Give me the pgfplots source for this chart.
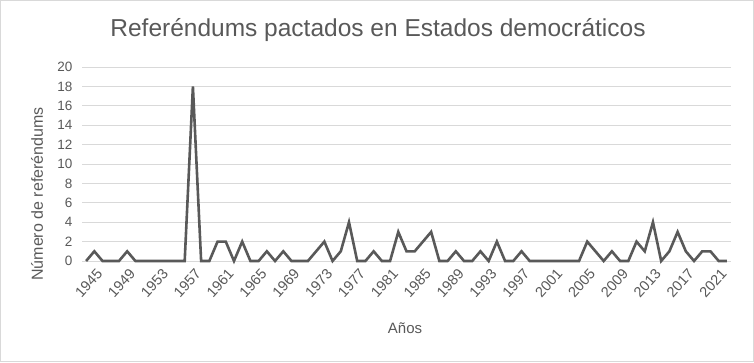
\documentclass[border=0pt]{standalone}
\usepackage{pgfplots}
\pgfplotsset{compat=1.18}
\usepackage{fontspec}
\setmainfont{Liberation Sans}
\definecolor{txt}{HTML}{595959}
\definecolor{gridc}{HTML}{D9D9D9}
\definecolor{ln}{HTML}{595959}
\begin{document}
\begin{tikzpicture}
\draw[gridc, line width=0.8pt] (0.4pt,0.4pt) rectangle (753.6pt,361.6pt);
\begin{axis}[
  at={(82pt,101pt)}, anchor=south west,
  scale only axis, width=649pt, height=194pt,
  xmin=1944.5, xmax=2023.5, ymin=0, ymax=20,
  ytick={0,2,...,20},
  xtick={1945,1949,...,2021},
  xticklabel style={rotate=48, anchor=north east, xshift=5pt, yshift=-8pt, font=\fontsize{14.5}{14.5}\selectfont, text=txt, /pgf/number format/1000 sep={}},
  yticklabel style={font=\fontsize{13.5}{13.5}\selectfont, text=txt, xshift=-6pt},
  /pgf/number format/assume math mode=true,
  /pgf/number format/1000 sep={},
  axis line style={draw=none},
  major tick length=0pt,
  ymajorgrids, xmajorgrids=false, grid style={draw=gridc, line width=0.8pt},
  clip=false,
]
\addplot[ln, line width=2.6pt, line join=miter, miter limit=20] coordinates {
(1945,0)(1946,1)(1947,0)(1948,0)(1949,0)(1950,1)(1951,0)(1952,0)(1953,0)(1954,0)
(1955,0)(1956,0)(1957,0)(1958,18)(1959,0)(1960,0)(1961,2)(1962,2)(1963,0)(1964,2)
(1965,0)(1966,0)(1967,1)(1968,0)(1969,1)(1970,0)(1971,0)(1972,0)(1973,1)(1974,2)
(1975,0)(1976,1)(1977,4)(1978,0)(1979,0)(1980,1)(1981,0)(1982,0)(1983,3)(1984,1)
(1985,1)(1986,2)(1987,3)(1988,0)(1989,0)(1990,1)(1991,0)(1992,0)(1993,1)(1994,0)
(1995,2)(1996,0)(1997,0)(1998,1)(1999,0)(2000,0)(2001,0)(2002,0)(2003,0)(2004,0)
(2005,0)(2006,2)(2007,1)(2008,0)(2009,1)(2010,0)(2011,0)(2012,2)(2013,1)(2014,4)
(2015,0)(2016,1)(2017,3)(2018,1)(2019,0)(2020,1)(2021,1)(2022,0)(2023,0)
};
\end{axis}
\node[text=txt, font=\fontsize{24.5}{24.5}\selectfont] at (378pt,332pt) {Referéndums pactados en Estados democráticos};
\node[text=txt, font=\fontsize{16}{16}\selectfont, rotate=90] at (37pt,168pt) {Número de referéndums};
\node[text=txt, font=\fontsize{15}{15}\selectfont] at (405pt,34pt) {Años};
\end{tikzpicture}
\end{document}
